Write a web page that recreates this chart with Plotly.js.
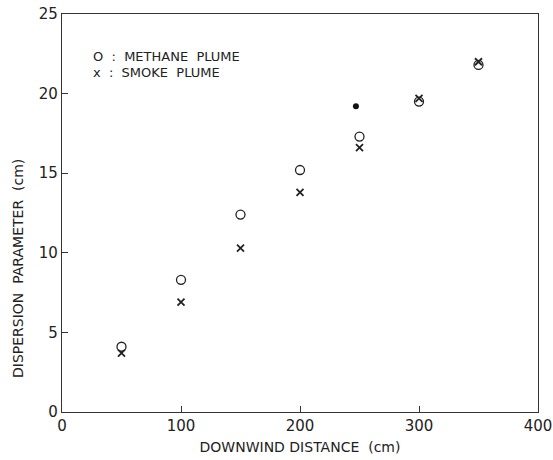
<!DOCTYPE html>
<html><head><meta charset="utf-8">
<script src="https://cdn.plot.ly/plotly-3.0.1.min.js"></script>
<style>body{margin:0;background:#fff}#c{width:553px;height:460px}</style>
</head><body><div id="c"></div>
<script>
const distance = [50, 100, 150, 200, 250, 300, 350];
const methane = [4.1, 8.3, 12.4, 15.2, 17.3, 19.5, 21.8];
const smoke = [3.7, 6.9, 10.3, 13.8, 16.6, 19.7, 22.0];
const extraX = [247];
const extraY = [19.2];
const xTicks = [0, 100, 200, 300, 400];
const yTicks = [0, 5, 10, 15, 20, 25];

const fnt = {family: 'DejaVu Sans, sans-serif', color: '#222'};
const traces = [
  {x: distance, y: methane, mode: 'markers', type: 'scatter', name: 'METHANE PLUME',
   marker: {symbol: 'circle-open', size: 9, color: '#222', line: {width: 1.3}}},
  {x: distance, y: smoke, mode: 'markers', type: 'scatter', name: 'SMOKE PLUME',
   marker: {symbol: 'x-thin-open', size: 7, color: '#222', line: {width: 1.8}}},
  {x: extraX, y: extraY, mode: 'markers', type: 'scatter', showlegend: false,
   marker: {symbol: 'circle', size: 6, color: '#111'}}
];
const axisBase = {showgrid: false, zeroline: false, showline: true, mirror: true,
  linecolor: '#333', linewidth: 1.2, ticks: 'inside', ticklen: 6, tickcolor: '#333',
  tickfont: Object.assign({size: 15}, fnt)};
const layout = {
  width: 553, height: 460,
  margin: {l: 62, r: 15, t: 14, b: 48},
  paper_bgcolor: '#fff', plot_bgcolor: '#fff',
  showlegend: false,
  xaxis: Object.assign({}, axisBase, {range: [0, 400], tickvals: xTicks,
    title: {text: 'DOWNWIND DISTANCE  (cm)', font: Object.assign({size: 14}, fnt), standoff: 8}}),
  yaxis: Object.assign({}, axisBase, {range: [0, 25], tickvals: yTicks}),
  annotations: [
    {xref: 'paper', yref: 'paper', x: 0.06, y: 0.894, xanchor: 'left', yanchor: 'middle', showarrow: false,
     text: 'O  :  METHANE  PLUME', font: Object.assign({size: 13}, fnt)},
    {xref: 'paper', yref: 'paper', x: 0.06, y: 0.854, xanchor: 'left', yanchor: 'middle', showarrow: false,
     text: 'x  :  SMOKE  PLUME', font: Object.assign({size: 13}, fnt)},
    {xref: 'paper', yref: 'paper', x: -0.094, y: 0.36, xanchor: 'center', yanchor: 'middle', showarrow: false,
     textangle: -90, text: 'DISPERSION  PARAMETER  (cm)', font: Object.assign({size: 14}, fnt)}
  ]
};
Plotly.newPlot('c', traces, layout, {displayModeBar: false, staticPlot: true});
</script></body></html>
